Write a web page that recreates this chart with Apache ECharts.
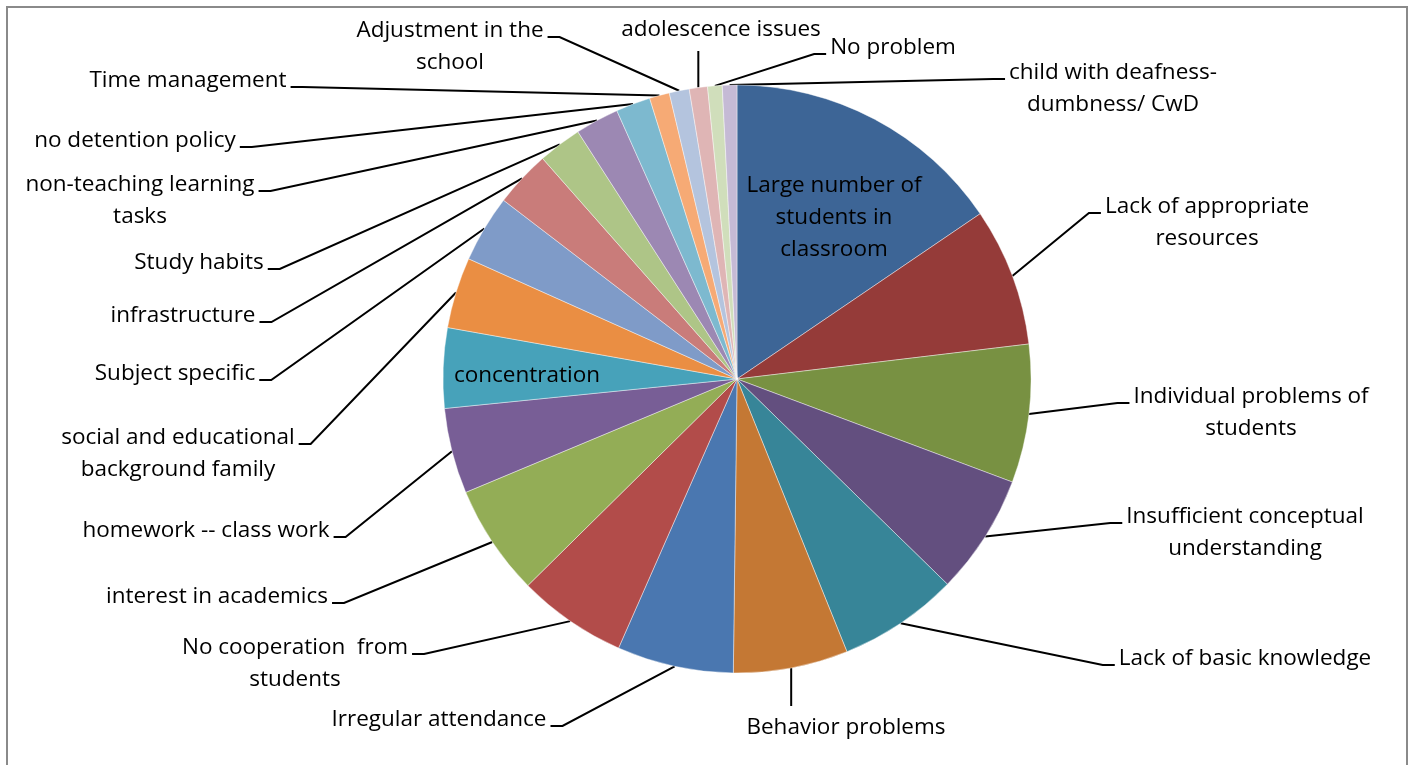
<!DOCTYPE html>
<html>
<head>
<meta charset="utf-8">
<script src="https://cdn.jsdelivr.net/npm/echarts@6/dist/echarts.min.js"></script>
<style>
  html, body { margin: 0; padding: 0; background: #ffffff; }
  #chart { width: 1412px; height: 765px; }
</style>
</head>
<body>
<div id="chart"></div>
<script>
// Problems reported by teachers (share of responses, %)
const categories = [
  'Large number of\nstudents in\nclassroom',
  'Lack of appropriate\nresources',
  'Individual problems of\nstudents',
  'Insufficient conceptual\nunderstanding',
  'Lack of basic knowledge',
  'Behavior problems',
  'Irregular attendance',
  'No cooperation  from\nstudents',
  'interest in academics',
  'homework -- class work',
  'concentration',
  'social and educational\nbackground family',
  'Subject specific',
  'infrastructure',
  'Study habits',
  'non-teaching learning\ntasks',
  'no detention policy',
  'Time management',
  'Adjustment in the\nschool',
  'adolescence issues',
  'No problem',
  'child with deafness-\ndumbness/ CwD'
];
const shares = [15.5, 7.6, 7.6, 6.6, 6.6, 6.3, 6.4, 6.0, 6.1, 4.7, 4.4,
                3.9, 3.7, 3.1, 2.4, 2.4, 1.9, 1.1, 1.1, 1.0, 0.8, 0.8];

const sliceColors = [
  '#3D6596', '#953B39', '#789142', '#634F7F', '#378598', '#C47834',
  '#4A77B0', '#B24C4A', '#93AD56', '#785E96', '#47A2BA', '#EA8E43',
  '#7F9BC8', '#C97C7A', '#AEC587', '#9C88B3', '#7DB9CF', '#F6AA75',
  '#B4C4DE', '#DFB5B5', '#D0DEBB', '#C5BAD5'
];

// categories whose label sits on the slice itself
const insideLabels = [0, 10];

// label centres in px
const labelAnchors = [
  [834, 218], [1207, 223], [1251, 413], [1245, 533], [1245, 659],
  [846, 728], [439, 720], [295, 664], [217, 597], [206, 531],
  [527, 376], [178, 454], [175, 374], [183, 316], [199, 263],
  [140, 201], [135, 141], [188, 81], [450, 47], [721, 30],
  [893, 48], [1113, 89]
];

const CX = 737, CY = 379, R = 294;
const LINE_H = 32;

// mid angle of each slice, clockwise from 12 o'clock
const total = shares.reduce((a, b) => a + b, 0);
const midAngles = [];
let acc = 0;
shares.forEach(v => {
  midAngles.push((acc + v / 2) / total * Math.PI * 2);
  acc += v;
});

const seriesData = categories.map((name, i) => {
  const inside = insideLabels.indexOf(i) >= 0;
  return {
    name: name,
    value: shares[i],
    itemStyle: { color: sliceColors[i] },
    label: { position: inside ? 'inside' : 'outside' },
    labelLine: { show: !inside }
  };
});

const chart = echarts.init(document.getElementById('chart'), null, { renderer: 'canvas' });

chart.setOption({
  animation: false,
  backgroundColor: '#ffffff',
  graphic: [{
    type: 'rect',
    shape: { x: 7, y: 7, width: 1400, height: 800 },
    style: { fill: 'none', stroke: '#8a8a8a', lineWidth: 2 },
    silent: true
  }],
  series: [{
    type: 'pie',
    center: [CX, CY],
    radius: R,
    startAngle: 90,
    clockwise: true,
    avoidLabelOverlap: false,
    data: seriesData,
    itemStyle: { borderColor: 'rgba(255,255,255,0.7)', borderWidth: 0.6 },
    label: {
      show: true,
      formatter: '{b}',
      color: '#000000',
      fontFamily: 'Open Sans',
      fontSize: 22.5,
      lineHeight: LINE_H,
      align: 'center',
      overflow: 'none'
    },
    labelLine: {
      show: true,
      length: 10,
      length2: 10,
      smooth: false,
      lineStyle: { color: '#000000', width: 2 }
    },
    emphasis: { disabled: true },
    labelLayout: function (p) {
      const i = p.dataIndex;
      const lx = labelAnchors[i][0], ly = labelAnchors[i][1];
      const w = p.labelRect.width, h = p.labelRect.height;
      const res = { x: lx, y: ly, align: 'center', verticalAlign: 'middle' };
      if (insideLabels.indexOf(i) >= 0) return res;

      const a = midAngles[i];
      const ax = CX + R * Math.sin(a);
      const ay = CY - R * Math.cos(a);
      const left = lx - w / 2, right = lx + w / 2;
      const top = ly - h / 2, bottom = ly + h / 2;

      if (ax > left && ax < right) {
        // leader drops straight onto the label
        const ey = ly > CY ? top - 6 : bottom + 5;
        res.labelLinePoints = [[ax, ay], [ax, ey]];
      } else {
        const onLeft = right < ax;
        const ex = onLeft ? right + 4 : left - 4;
        const ey = top + LINE_H / 2 + 6;
        const bx = onLeft ? ex + 12 : ex - 12;
        res.labelLinePoints = [[ax, ay], [bx, ey], [ex, ey]];
      }
      return res;
    }
  }]
});
</script>
</body>
</html>
